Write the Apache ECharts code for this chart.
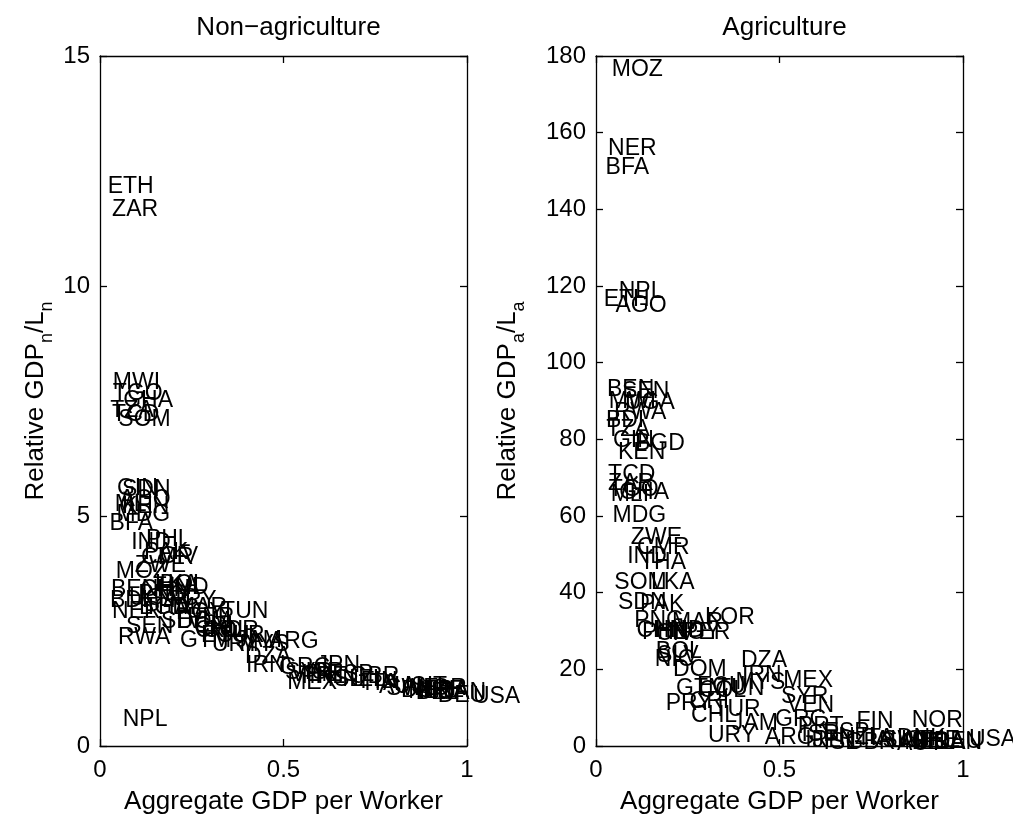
<!DOCTYPE html>
<html>
<head>
<meta charset="utf-8">
<script src="https://cdn.jsdelivr.net/npm/echarts@6/dist/echarts.min.js"></script>
<style>
html,body{margin:0;padding:0;background:#fff;}
#chart{width:1013px;height:814px;}
</style>
</head>
<body>
<div id="chart"></div>
<script>
// Country codes
const countries = ['MOZ','NER','BFA','NPL','ETH','AGO','BEN','SEN','MWI','UGA','RWA','TZA','GIN','BDI','BGD','KEN','TCD','ZAR','TGO','GHA','MLI','MDG','ZWE','CMR','IND','THA','SOM','LKA','SDN','PAK','PNG','MAR','KOR','CHN','PHL','HND','EGY','PER','CIV','BOL','SLV','NIC','DOM','DZA','IRN','MEX','SYR','VEN','ECU','COL','TUN','PRY','CRI','CHL','TUR','URY','JAM','ARG','GRC','GTM','MYS','PRT','ISR','ESP','IRL','JPN','FIN','NOR','ITA','GBR','AUS','NZL','SWE','DNK','NLD','BEL','FRA','AUT','DEU','CAN','CHE','ISL','USA'];
// Aggregate GDP per worker (relative)
const gdpPerWorker = [0.043,0.033,0.026,0.062,0.021,0.053,0.030,0.071,0.035,0.079,0.049,0.028,0.046,0.027,0.106,0.060,0.033,0.033,0.035,0.063,0.040,0.045,0.095,0.112,0.085,0.120,0.050,0.150,0.060,0.120,0.104,0.207,0.297,0.110,0.125,0.160,0.207,0.237,0.163,0.163,0.166,0.160,0.210,0.395,0.398,0.510,0.504,0.520,0.275,0.280,0.330,0.190,0.255,0.259,0.320,0.305,0.370,0.460,0.488,0.218,0.380,0.550,0.560,0.620,0.570,0.590,0.710,0.860,0.720,0.680,0.760,0.660,0.780,0.820,0.840,0.860,0.880,0.820,0.920,0.920,0.860,0.620,1.016];
// Relative GDP_n / L_n (non-agriculture)
const relNonAg = [3.78,2.91,4.83,0.57,12.15,5.35,3.40,2.60,7.89,3.20,2.35,7.30,5.59,3.17,3.00,5.20,7.20,11.67,7.67,7.50,5.24,5.04,3.91,4.09,4.41,3.00,7.10,3.50,5.57,4.20,3.30,3.00,2.50,3.40,4.48,3.45,2.90,2.80,4.11,3.50,2.70,3.20,2.70,1.95,1.75,1.37,1.60,1.55,2.40,2.50,2.93,3.17,2.60,2.50,2.40,2.20,2.30,2.26,1.70,2.28,2.20,1.50,1.60,1.55,1.50,1.74,1.40,1.25,1.35,1.50,1.30,1.45,1.25,1.20,1.18,1.15,1.20,1.28,1.10,1.15,1.20,1.45,1.07];
// Relative GDP_a / L_a (agriculture)
const relAg = [176.4,155.8,150.8,118.4,116.4,114.8,92.9,92.5,89.7,89.5,86.9,82.4,79.6,85.0,79.0,76.4,70.7,68.5,67.0,66.0,65.5,60.0,54.3,51.7,49.3,47.7,42.5,42.5,37.3,37.0,32.6,32.1,33.4,30.0,29.5,30.0,29.5,29.5,29.3,24.5,23.5,22.5,19.8,22.2,18.3,17.0,13.0,10.4,15.5,14.5,15.0,11.0,11.5,7.8,9.5,2.6,5.7,2.1,7.0,15.0,16.5,5.0,3.0,3.5,1.5,1.5,6.3,6.5,2.0,1.0,1.5,2.2,1.3,1.8,1.0,0.8,0.8,0.7,1.2,0.8,1.3,1.0,1.6];

const titles = ['Non\u2212agriculture', 'Agriculture'];
const xName = 'Aggregate GDP per Worker';
const yNames = ['Relative GDP{sub|n}/L{sub|n}', 'Relative GDP{sub|a}/L{sub|a}'];

const FONT = '"Liberation Sans", Arial, Helvetica, sans-serif';
const chart = echarts.init(document.getElementById('chart'));

const grids = [
  {left: 100, top: 56, width: 367, height: 690, containLabel: false, outerBoundsMode: 'none'},
  {left: 596, top: 56, width: 367, height: 690, containLabel: false, outerBoundsMode: 'none'}
];
const yRanges = [{min: 0, max: 15, interval: 5}, {min: 0, max: 180, interval: 20}];
const yNameGaps = [44, 68];

const lineStyle = {color: '#000', width: 1.3};
const xAxes = [], yAxes = [];
[0, 1].forEach(i => {
  xAxes.push({
    gridIndex: i, type: 'value', min: 0, max: 1, interval: 0.5, position: 'bottom',
    axisLine: {show: true, onZero: false, lineStyle},
    axisTick: {show: true, inside: true, length: 7, lineStyle},
    splitLine: {show: false},
    axisLabel: {color: '#000', fontSize: 24, fontFamily: FONT, margin: 12,
      formatter: v => String(v)},
    name: xName, nameLocation: 'middle', nameGap: 43,
    nameTextStyle: {color: '#000', fontSize: 26, fontFamily: FONT}
  });
  xAxes.push({
    gridIndex: i, type: 'value', min: 0, max: 1, interval: 0.5, position: 'top',
    axisLine: {show: true, onZero: false, lineStyle},
    axisTick: {show: true, inside: true, length: 7, lineStyle},
    splitLine: {show: false}, axisLabel: {show: false}
  });
  yAxes.push({
    gridIndex: i, type: 'value', min: yRanges[i].min, max: yRanges[i].max, interval: yRanges[i].interval,
    position: 'left',
    axisLine: {show: true, onZero: false, lineStyle},
    axisTick: {show: true, inside: true, length: 7, lineStyle},
    splitLine: {show: false},
    axisLabel: {color: '#000', fontSize: 24, fontFamily: FONT, margin: 10},
    name: yNames[i], nameLocation: 'middle', nameGap: yNameGaps[i], nameRotate: 90,
    nameTextStyle: {color: '#000', fontSize: 26, fontFamily: FONT,
      rich: {sub: {fontSize: 18, fontFamily: FONT, color: '#000', verticalAlign: 'bottom', lineHeight: 40}}}
  });
  yAxes.push({
    gridIndex: i, type: 'value', min: yRanges[i].min, max: yRanges[i].max, interval: yRanges[i].interval,
    position: 'right',
    axisLine: {show: true, onZero: false, lineStyle},
    axisTick: {show: true, inside: true, length: 7, lineStyle},
    splitLine: {show: false}, axisLabel: {show: false}
  });
});

function makeData(ys) {
  return countries.map((c, k) => ({name: c, value: [gdpPerWorker[k], ys[k]]}));
}

const series = [relNonAg, relAg].map((ys, i) => ({
  type: 'scatter',
  xAxisIndex: i * 2, yAxisIndex: i * 2,
  symbolSize: 0.01,
  silent: true,
  itemStyle: {opacity: 1},
  data: makeData(ys),
  label: {
    show: true, position: 'right', distance: 0,
    formatter: p => p.name,
    color: '#000', opacity: 1, fontSize: 23, fontFamily: FONT
  },
  clip: false
}));

chart.setOption({
  animation: false,
  backgroundColor: '#fff',
  title: titles.map((t, i) => ({
    text: t, left: grids[i].left + grids[i].width / 2, top: 10, textAlign: 'center',
    textStyle: {color: '#000', fontSize: 26, fontWeight: 'normal', fontFamily: FONT}
  })),
  grid: grids,
  xAxis: xAxes,
  yAxis: yAxes,
  series
});
</script>
</body>
</html>
